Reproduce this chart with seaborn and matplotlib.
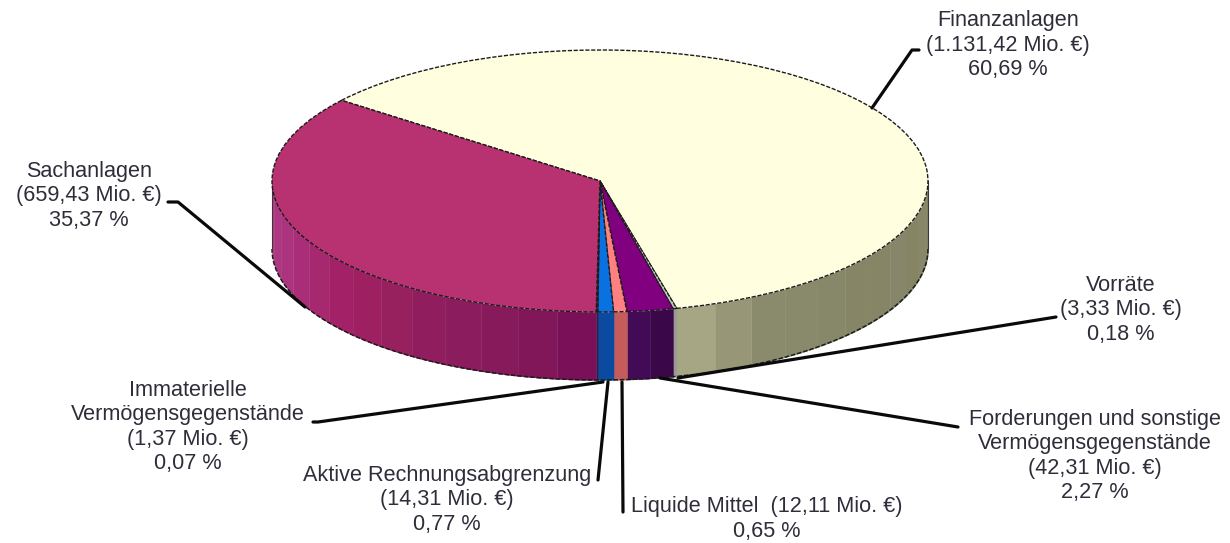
import numpy as np
import matplotlib
matplotlib.use("Agg")
import matplotlib.pyplot as plt
from matplotlib.colors import LinearSegmentedColormap
import seaborn as sns

# ---- data ----
categories = ["Finanzanlagen", "Vorräte", "Forderungen und sonstige Vermögensgegenstände",
              "Liquide Mittel", "Aktive Rechnungsabgrenzung",
              "Immaterielle Vermögensgegenstände", "Sachanlagen"]
amounts = [1131.42, 3.33, 42.31, 12.11, 14.31, 1.37, 659.43]
label_texts = ["Finanzanlagen\n(1.131,42 Mio. €)\n60,69 %",
               "Vorräte\n(3,33 Mio. €)\n0,18 %",
               "Forderungen und sonstige\nVermögensgegenstände\n(42,31 Mio. €)\n2,27 %",
               "Liquide Mittel  (12,11 Mio. €)\n0,65 %",
               "Aktive Rechnungsabgrenzung\n(14,31 Mio. €)\n0,77 %",
               "Immaterielle\nVermögensgegenstände\n(1,37 Mio. €)\n0,07 %",
               "Sachanlagen\n(659,43 Mio. €)\n35,37 %"]

# ---- styles / layout ----
top_colors = ["#ffffe0", "#c9c9c0", "#800080", "#ff8080", "#0a72e0", "#30305f", "#b83272"]
# wall colours run from the right end of each slice to its left end
wall_ramps = [["#848460", "#87876a", "#858562", "#86866a", "#87876a", "#858562",
               "#86866a", "#87876a", "#8a8a6c", "#8a8a6c", "#989878", "#a6a684"],
              ["#9a9a90", "#9a9a90"],
              ["#3a0848", "#430a55"],
              ["#c45c5c", "#bf5858"],
              ["#0a4aa0", "#0a55b0"],
              ["#202050", "#202050"],
              ["#7a1058", "#861a5a", "#8c1c5e", "#98205f", "#a32065", "#a82c74", "#ad3480", "#b03a82"]]
start_angle = 142
cx, cy, rx, ry, depth = 600, 181, 328, 131, 68
W, H = 1230, 543

label_pos = [(1008, 45), (1121, 310), (1095, 456), (767, 519), (447, 500), (188, 427), (89, 196)]
leaders = [[(872, 108), (912, 50), (919, 50)],
           [(678, 378), (1056, 317)],
           [(660, 378), (958, 427)],
           [(622, 382), (623, 512)],
           [(608, 382), (598, 480)],
           [(603, 382), (318, 422), (313, 422)],
           [(305, 307), (178, 202), (168, 202)]]

sns.set_theme(style="white")
plt.rcParams["font.family"] = ["Liberation Sans", "DejaVu Sans"]
palette = sns.color_palette(top_colors)

fig = plt.figure(figsize=(W / 100, H / 100), dpi=100)
ax = fig.add_axes([0, 0, 1, 1])
ax.pie(amounts, startangle=start_angle, counterclock=False, colors=palette, radius=1,
       wedgeprops=dict(edgecolor="#1c1c1c", linewidth=1.0, linestyle=(0, (3, 1.2)), zorder=5))
ax.set_aspect("auto")
ax.set_xlim((0 - cx) / rx, (W - cx) / rx)
ax.set_ylim((cy - H) / ry, cy / ry)
ax.axis("off")

# side wall: the front part of every slice, lowered by the pie depth
d = depth / ry
fractions = np.array(amounts) / np.sum(amounts)
ends = start_angle - np.cumsum(fractions) * 360
starts = np.r_[start_angle, ends[:-1]]
for a0, a1, ramp in zip(starts, ends, wall_ramps):
    hi, lo = min(a0, 0), max(a1, -180)
    if hi <= lo:
        continue
    cmap = LinearSegmentedColormap.from_list("w", ramp)
    n = max(1, int(np.ceil((hi - lo) / 7)))
    edges = np.linspace(hi, lo, n + 1)
    for i in range(n):
        t = np.radians(np.linspace(edges[i], edges[i + 1], 12))
        ax.fill_between(np.cos(t), np.sin(t), np.sin(t) - d, color=cmap(i / max(1, n - 1)),
                        linewidth=0.3, zorder=2)
# dashed outline of the wall's lower rim
t = np.radians(np.linspace(0, -180, 200))
ax.plot(np.cos(t), np.sin(t) - d, color="#1c1c1c", lw=1.1, ls=(0, (3, 1.2)), zorder=3)
for sx in (-1, 1):
    ax.plot([sx, sx], [0, -d], color="#3a3a3a", lw=0.8, zorder=3)

# overlay in pixel coordinates for labels and leader lines
ov = fig.add_axes([0, 0, 1, 1], facecolor="none")
ov.set_xlim(0, W)
ov.set_ylim(H, 0)
ov.axis("off")
for path in leaders:
    xs, ys = zip(*path)
    ov.plot(xs, ys, color="#0a0a0a", lw=2.3, solid_capstyle="round", zorder=6)
for txt, (x, y) in zip(label_texts, label_pos):
    ov.text(x, y, txt, ha="center", va="center", fontsize=15.6, color="#2e2e3a",
            linespacing=1.2, zorder=7)

fig.savefig("out.png", dpi=100)
